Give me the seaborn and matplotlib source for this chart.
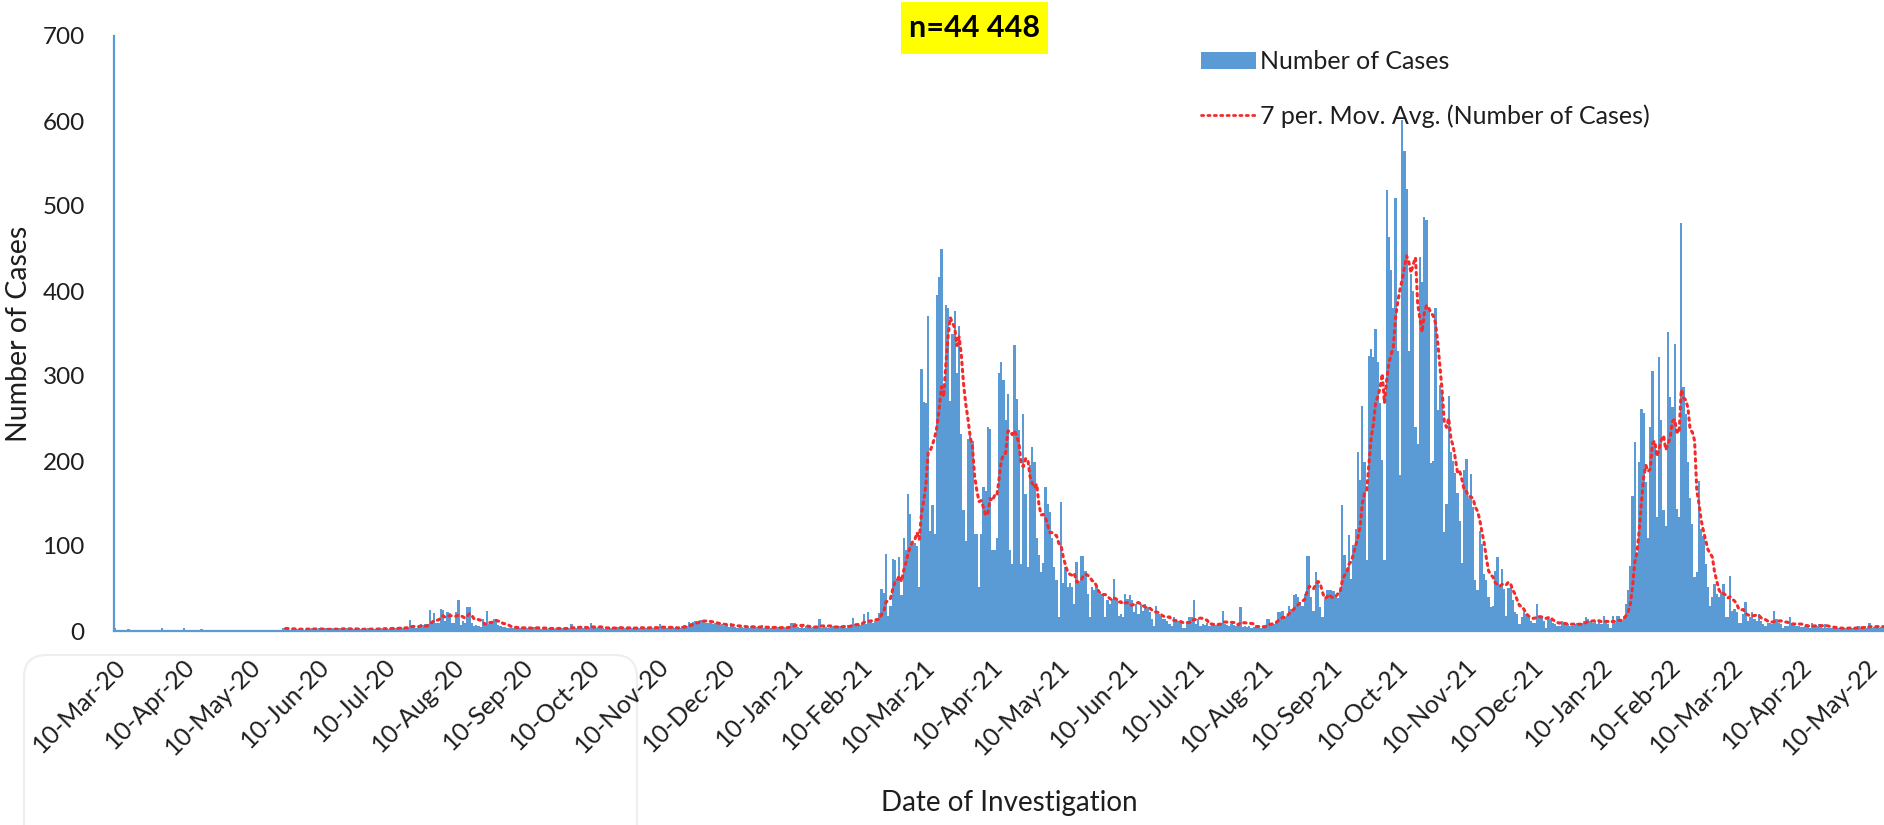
import numpy as np
import pandas as pd
import matplotlib
matplotlib.use("Agg")
import matplotlib.pyplot as plt
import matplotlib.dates as mdates
from matplotlib.patches import Patch, FancyBboxPatch, Rectangle
from matplotlib.lines import Line2D
import seaborn as sns

# ---------------- data (daily case counts) ----------------
early_dates = ["2020-03-10", "2020-03-16", "2020-03-31", "2020-04-10", "2020-04-18"]
early_cases = [3, 2, 3, 4, 2]

start_spring20 = "2020-05-25"
cases_spring20 = [4, 3, 2, 1, 2, 3, 2, 2, 3, 1, 2, 3, 2, 4, 2, 1, 3, 2, 2, 3,
                  1, 2, 3, 2, 2, 3, 2, 4, 3, 2, 1, 3, 2, 2, 3, 2, 1, 2, 3, 2,
                  3, 2, 2, 3, 4, 2, 3, 2, 3, 4, 3]

start_summer20 = "2020-07-15"
cases_summer20 = [4, 3, 5, 4, 3, 4, 13, 4, 5, 3, 4, 8, 7, 8, 8, 25, 10, 21, 9, 10,
                  26, 25, 12, 22, 21, 10, 9, 22, 36, 7, 12, 10, 28, 28, 9, 6, 7, 6, 5, 14,
                  6, 23, 8, 9, 14, 14, 7, 6, 5, 5, 4, 4, 4, 3, 5, 3, 4]

start_autumn20 = "2020-09-10"
cases_autumn20 = [3, 4, 3, 4, 2, 5, 5, 3, 2, 4, 3, 2, 4, 3, 2, 3, 4, 2, 3, 3, 4,
                  3, 8, 4, 3, 5, 4, 3, 4, 5, 3, 10, 4, 3, 5, 4, 3, 2, 4, 5, 3,
                  4, 3, 5, 4, 2, 3, 4, 5, 3, 4, 3,
                  4, 3, 5, 4, 3, 4, 5, 3, 4, 4, 8, 4, 3, 4, 3, 4, 5, 4, 3, 4,
                  6, 7, 6, 11, 10, 11, 12, 11, 13, 13,
                  12, 10, 9, 10, 8, 9, 8, 7, 8, 6, 7, 5, 9, 6, 5, 4, 6, 5, 4, 5,
                  4, 6, 5, 4, 5, 3, 7, 4, 3, 5, 4,
                  3, 4, 5, 3, 4, 5, 4, 3, 10, 9, 10, 5, 4, 5, 4, 6, 5, 4, 5, 4,
                  5, 14, 4, 6, 5, 3, 5, 6, 4, 5, 6,
                  5, 6, 4, 7, 6, 15, 8, 7, 7, 8, 20, 8, 22, 11, 10, 12, 12, 21]

start_wave3 = "2021-02-19"
cases_wave3 = [50, 45, 91, 18, 30, 85, 84, 61, 87, 42,
               110, 95, 161, 138, 103, 103, 100, 52, 308, 270,
               268, 371, 118, 148, 114, 395, 416, 450, 287, 383,
               380, 271, 350, 377, 303, 359, 232, 142, 106, 226,
               230, 224, 114, 114, 52, 114, 169, 165, 240, 238,
               95, 95, 110, 304, 316, 295, 248, 279, 95, 79,
               336, 273, 236, 79, 255, 161, 75, 195, 216, 199,
               110, 90, 70, 80, 170, 150, 140, 110, 75, 60,
               16, 152, 56, 75, 52, 56, 52, 32, 81, 56,
               88, 88, 71, 44, 16, 52, 48, 52, 44, 44,
               44, 16, 36, 32, 38, 61, 36, 18, 20, 16,
               44, 38, 42, 36, 22, 32, 20, 32, 24, 32,
               28, 22, 14, 6, 30, 20, 18, 14, 14, 12,
               8, 6, 16, 14, 12, 10, 4, 4, 10, 16,
               16, 36, 8, 14, 6]

start_summer21 = "2021-07-14"
cases_summer21 = [8, 7, 9, 6, 8, 9, 7, 8, 10, 24,
                  8, 7, 6, 8, 7, 6, 8, 28, 5, 6,
                  5, 6, 4, 5, 6, 5, 4, 6, 5, 14,
                  14, 9, 8, 12, 22, 22, 24, 16, 18, 30,
                  26, 42, 44, 40, 34, 30, 44, 88, 88, 40,
                  24, 69, 55, 28, 16, 38, 48, 48]

start_wave4 = "2021-09-10"
cases_wave4 = [48, 47, 40, 39, 49, 148, 89, 73, 113, 61,
               101, 120, 211, 178, 265, 199, 83, 324, 332, 322,
               355, 316, 268, 201, 83, 519, 464, 425, 380, 509,
               330, 184, 601, 565, 520, 330, 420, 400, 240, 220,
               440, 411, 487, 484, 378, 198, 200, 380, 260, 290,
               280, 117, 150, 276, 211, 200, 186, 162, 130, 80,
               190, 202, 157, 185, 146, 60, 48, 118, 102, 67,
               60, 40, 28, 30, 71, 87, 53, 73, 50, 18,
               51, 53, 36, 22, 20, 8, 16, 22, 20, 16,
               12, 10, 10, 32, 18, 18, 12, 4, 16, 14,
               10, 8, 6, 6, 12, 8, 10, 8, 6, 6,
               8, 10, 8, 10, 12, 16, 14, 12, 10, 12,
               8, 12, 8, 18, 12, 8, 4, 18, 10, 18,
               18, 12, 18]

start_wave5 = "2022-01-21"
cases_wave5 = [32, 48, 77, 159, 222, 91, 199, 261, 257, 175,
               110, 240, 306, 216, 134, 322, 248, 142, 124, 352,
               275, 264, 338, 144, 134, 480, 287, 255, 199, 157,
               126, 63, 69, 177, 120, 112, 79, 52, 30, 40,
               55, 44, 40, 46, 55, 16, 16, 65, 24, 26,
               22, 10, 10, 20, 34, 12, 16, 22, 14, 12,
               20, 12, 8, 6, 10, 10, 8, 24, 14, 10,
               8, 4, 6, 6, 16, 8, 10, 6, 6, 5,
               5, 6, 6, 4, 9, 7, 6, 8, 5, 4,
               8, 4, 3, 3, 4, 3, 4, 3, 3, 4,
               3, 4, 3, 4, 3, 6, 4, 4, 6, 3,
               9, 4, 5, 5, 4, 5, 5]

title_text = "n=44 448"
series_labels = ["Number of Cases", "7 per. Mov. Avg. (Number of Cases)"]
tick_start, tick_end = "2020-03-10", "2022-05-10"

# ---------------- assemble ----------------
parts = [pd.Series(early_cases, index=pd.to_datetime(early_dates), dtype=float)]
for start, vals in [(start_spring20, cases_spring20), (start_summer20, cases_summer20),
                    (start_autumn20, cases_autumn20), (start_wave3, cases_wave3),
                    (start_summer21, cases_summer21), (start_wave4, cases_wave4),
                    (start_wave5, cases_wave5)]:
    parts.append(pd.Series(vals, index=pd.date_range(start, periods=len(vals), freq="D"), dtype=float))
s = pd.concat(parts)
s = s[~s.index.duplicated(keep="first")].sort_index()
ma = s.rolling(7).mean().dropna()   # Excel-style 7-period moving average

df = pd.DataFrame({"x": mdates.date2num(s.index) + 0.5, "cases": s.values})
ma_df = pd.DataFrame({"x": mdates.date2num(ma.index) + 0.5, "ma": ma.values})

# ---------------- style ----------------
sns.set_theme(style="white")
plt.rcParams["font.family"] = ["Lato", "DejaVu Sans"]
BLUE = "#5B9BD5"
RED = "#f42b2b"
TXT = "#1e1e1e"
DOTS = (0, (0.8, 1.5))

W, H = 1884, 825
fig = plt.figure(figsize=(W / 100, H / 100), dpi=100)
ax = fig.add_axes([114 / W, (H - 631) / H, (W - 114) / W, (631 - 36) / H])

sns.barplot(data=df, x="x", y="cases", native_scale=True, width=1.0, color=BLUE,
            saturation=1, errorbar=None, linewidth=0, ax=ax)
sns.lineplot(data=ma_df, x="x", y="ma", color=RED, linewidth=2.2, errorbar=None,
             linestyle=DOTS, dash_capstyle="round", ax=ax)

ax.set_xlim(mdates.date2num(pd.Timestamp("2020-03-10")), mdates.date2num(pd.Timestamp("2022-05-18")))
ax.set_ylim(0, 700)
ax.set_yticks(range(0, 701, 100))
ticks = pd.date_range(tick_start, tick_end, freq=pd.DateOffset(months=1))
ax.set_xticks(mdates.date2num(ticks))
ax.set_xticklabels([t.strftime("%d-%b-%y") for t in ticks], rotation=45, ha="right",
                   va="top", rotation_mode="anchor")
ax.tick_params(axis="x", length=8, width=1.5, color=BLUE, pad=9, labelsize=18, labelcolor=TXT)
ax.tick_params(axis="y", length=0, pad=21, labelsize=17.5, labelcolor=TXT)
ax.set_xlabel("")
ax.set_ylabel("")
sns.despine(ax=ax)
for sp in ("left", "bottom"):
    ax.spines[sp].set_color(BLUE)
    ax.spines[sp].set_linewidth(1.6)
ax.grid(False)

fig.text(19 / W, 1 - 334 / H, "Number of Cases", rotation=90, ha="center", va="center",
         fontsize=20.5, color=TXT)
fig.text(1009 / W, 1 - 803 / H, "Date of Investigation", ha="center", va="center",
         fontsize=20, color=TXT)

fig.patches.append(Rectangle((901 / W, 1 - 54 / H), (1048 - 901) / W, 52 / H,
                             transform=fig.transFigure, facecolor="#FFFF00",
                             edgecolor="none", zorder=2))
fig.text(975 / W, 1 - 28 / H, title_text, ha="center", va="center", fontsize=22,
         fontweight="bold", color="black", zorder=3)

handles = [Patch(facecolor=BLUE, edgecolor="none"),
           Line2D([], [], color=RED, linewidth=2.0, linestyle=DOTS, dash_capstyle="round")]
fig.legend(handles, series_labels, loc="upper left", bbox_to_anchor=(1201 / W, 1 - 50 / H),
           bbox_transform=fig.transFigure, frameon=False, fontsize=18,
           handlelength=2.2, handleheight=0.65, handletextpad=0.15, labelspacing=1.25,
           borderpad=0, borderaxespad=0, labelcolor=TXT)

fig.patches.append(FancyBboxPatch((24 / W, -0.05), (637 - 24) / W, (825 - 655) / H + 0.05,
                                  boxstyle="round,pad=0,rounding_size=0.012",
                                  mutation_aspect=W / H,
                                  transform=fig.transFigure, facecolor="none",
                                  edgecolor="#eeeeee", linewidth=1.5, zorder=-1))

fig.savefig("out.png", dpi=100)
print("total", int(s.sum()), "days", len(s))
